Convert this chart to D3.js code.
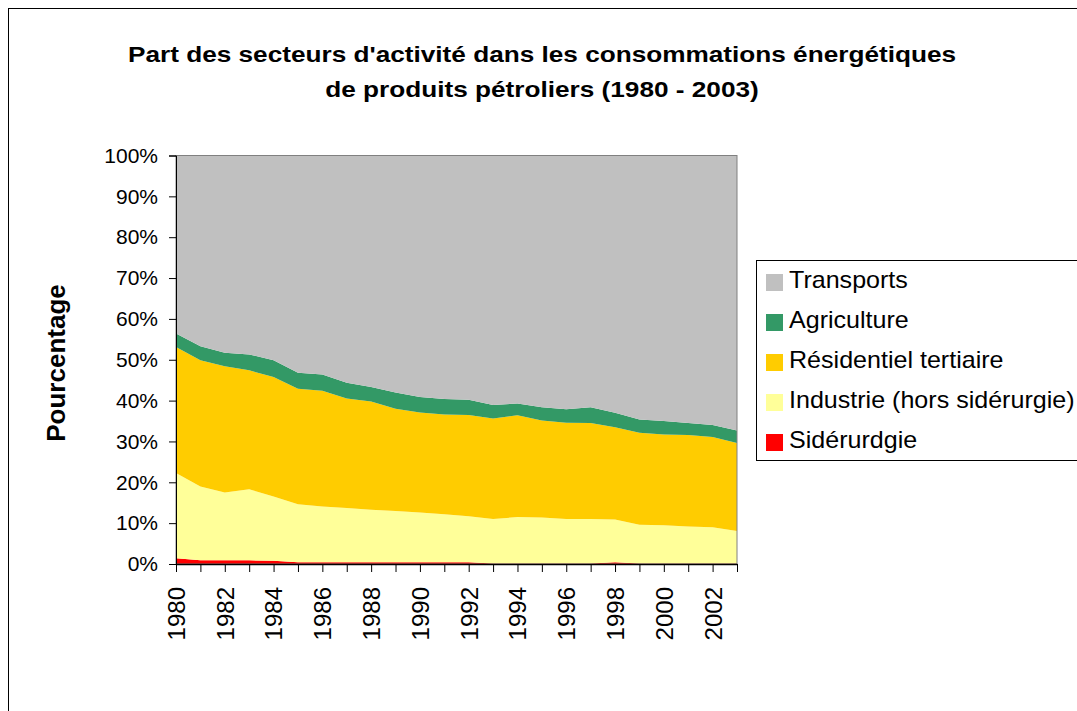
<!DOCTYPE html>
<html>
<head>
<meta charset="utf-8">
<script src="https://cdn.jsdelivr.net/npm/d3@7"></script>
<style>
  body { margin: 0; background: #fff; }
  text { font-family: Arial, "Liberation Sans", sans-serif; fill: #000; }
</style>
</head>
<body>
<div id="chart"></div>
<script>
// years on the x axis
var years = d3.range(1980, 2004);

// shares per sector (%)
var siderurgie  = [1.4, 0.9, 0.9, 0.9, 0.8, 0.4, 0.4, 0.4, 0.4, 0.4, 0.4, 0.4, 0.4, 0.1, 0.1, 0.1, 0.1, 0.1, 0.4, 0.1, 0.1, 0.1, 0.1, 0.1];
var industrie   = [20.9, 18.1, 16.6, 17.4, 15.7, 14.2, 13.7, 13.3, 12.9, 12.6, 12.2, 11.8, 11.3, 10.9, 11.4, 11.3, 10.9, 10.9, 10.5, 9.5, 9.4, 9.1, 8.9, 8.0];
var residentiel = [30.8, 30.9, 30.9, 29.1, 29.3, 28.3, 28.3, 26.8, 26.5, 25.0, 24.5, 24.4, 24.8, 24.6, 24.9, 23.7, 23.6, 23.5, 22.6, 22.5, 22.2, 22.4, 22.1, 21.5];
var agriculture = [3.3, 3.4, 3.3, 3.9, 4.1, 3.9, 4.0, 3.9, 3.5, 4.0, 3.8, 3.8, 3.7, 3.3, 2.9, 3.3, 3.3, 3.9, 3.5, 3.3, 3.3, 2.9, 2.9, 3.1];
var transports  = [43.6, 46.7, 48.3, 48.7, 50.1, 53.2, 53.6, 55.6, 56.7, 58.0, 59.1, 59.6, 59.8, 61.1, 60.7, 61.6, 62.1, 61.6, 63.0, 64.6, 65.0, 65.5, 66.0, 67.3];

// stack order, bottom to top
var keys = ["siderurgie", "industrie", "residentiel", "agriculture", "transports"];
var colors = {
  transports: "#C0C0C0",
  agriculture: "#339966",
  residentiel: "#FFCC00",
  industrie: "#FFFF99",
  siderurgie: "#FF0000"
};
// legend order, top to bottom
var legendItems = [
  {key: "transports", label: "Transports"},
  {key: "agriculture", label: "Agriculture"},
  {key: "residentiel", label: "Résidentiel tertiaire"},
  {key: "industrie", label: "Industrie (hors sidérurgie)"},
  {key: "siderurgie", label: "Sidérurdgie"}
];

var rows = years.map(function(y, i) {
  return {
    year: y,
    siderurgie: siderurgie[i],
    industrie: industrie[i],
    residentiel: residentiel[i],
    agriculture: agriculture[i],
    transports: transports[i]
  };
});

var W = 1077, H = 711;
var margin = {top: 155.5, left: 176, right: 340, bottom: 147};
var width = W - margin.left - margin.right,   // 561
    height = H - margin.top - margin.bottom;  // 408

var svg = d3.select("#chart").append("svg")
  .attr("width", W)
  .attr("height", H);

// outer chart border (runs off the page to the right and bottom)
svg.append("rect")
  .attr("x", 8.5).attr("y", 8.5)
  .attr("width", 1200).attr("height", 800)
  .attr("fill", "#fff")
  .attr("stroke", "#000")
  .attr("stroke-width", 1);

// title - the original text is a bit stretched sideways
var title = svg.append("g")
  .attr("transform", "translate(542,0) scale(1.19,1)")
  .append("text")
  .attr("text-anchor", "middle")
  .style("font-size", "22px")
  .style("font-weight", "bold");
title.append("tspan").attr("x", 0).attr("y", 62)
  .text("Part des secteurs d'activité dans les consommations énergétiques");
title.append("tspan").attr("x", 0).attr("y", 97)
  .text("de produits pétroliers (1980 - 2003)");

var g = svg.append("g")
  .attr("transform", "translate(" + margin.left + "," + margin.top + ")");

var x = d3.scaleLinear()
  .domain([1980, 2003])
  .range([0, width]);

var y = d3.scaleLinear()
  .domain([0, 1])
  .range([height, 0]);

var stack = d3.stack()
  .keys(keys)
  .offset(d3.stackOffsetExpand);
var series = stack(rows);

var area = d3.area()
  .x(function(d) { return x(d.data.year); })
  .y0(function(d) { return y(d[0]); })
  .y1(function(d) { return y(d[1]); });

// plot area background
g.append("rect")
  .attr("width", width).attr("height", height)
  .attr("fill", "#fff");

g.selectAll("path.layer")
  .data(series)
  .enter()
  .append("path")
    .attr("class", "layer")
    .attr("d", area)
    .attr("fill", function(d) { return colors[d.key]; });

// right / top edge of the plot
g.append("rect")
  .attr("width", width).attr("height", height)
  .attr("fill", "none")
  .attr("stroke", "#808080");

// Y axis
var yAxis = g.append("g")
  .call(d3.axisLeft(y)
    .tickValues(d3.range(0, 1.01, 0.1))
    .tickFormat(d3.format(".0%"))
    .tickSize(7)
    .tickPadding(11));
yAxis.selectAll("text").style("font-size", "21px");
yAxis.select(".domain").attr("stroke", "#000");

// X axis
var xAxis = g.append("g")
  .attr("transform", "translate(0," + height + ")")
  .call(d3.axisBottom(x)
    .tickValues(years)
    .tickFormat(function(d) { return d % 2 === 0 ? String(d) : ""; })
    .tickSize(8)
    .tickSizeOuter(0));
xAxis.select(".domain").attr("stroke", "#000").attr("stroke-width", 1.5);
xAxis.selectAll("text")
  .attr("transform", "rotate(-90)")
  .attr("x", -23)
  .attr("y", 0)
  .attr("dy", "0.35em")
  .style("text-anchor", "end")
  .style("font-size", "24px");

// Y axis label
svg.append("text")
  .attr("text-anchor", "middle")
  .attr("transform", "translate(65,363) rotate(-90)")
  .style("font-size", "26px")
  .style("font-weight", "bold")
  .text("Pourcentage");

// legend
var legend = svg.append("g");
legend.append("rect")
  .attr("x", 756.5).attr("y", 260.5)
  .attr("width", 400).attr("height", 200)
  .attr("fill", "#fff")
  .attr("stroke", "#000");

var item = legend.selectAll("g.item")
  .data(legendItems)
  .enter()
  .append("g")
    .attr("class", "item")
    .attr("transform", function(d, i) { return "translate(0," + (280 + i * 40) + ")"; });
item.append("rect")
  .attr("x", 766).attr("y", -6)
  .attr("width", 17).attr("height", 17)
  .attr("fill", function(d) { return colors[d.key]; });
item.append("text")
  .attr("transform", "translate(789,8) scale(1.09,1)")
  .style("font-size", "23px")
  .text(function(d) { return d.label; });
</script>
</body>
</html>
